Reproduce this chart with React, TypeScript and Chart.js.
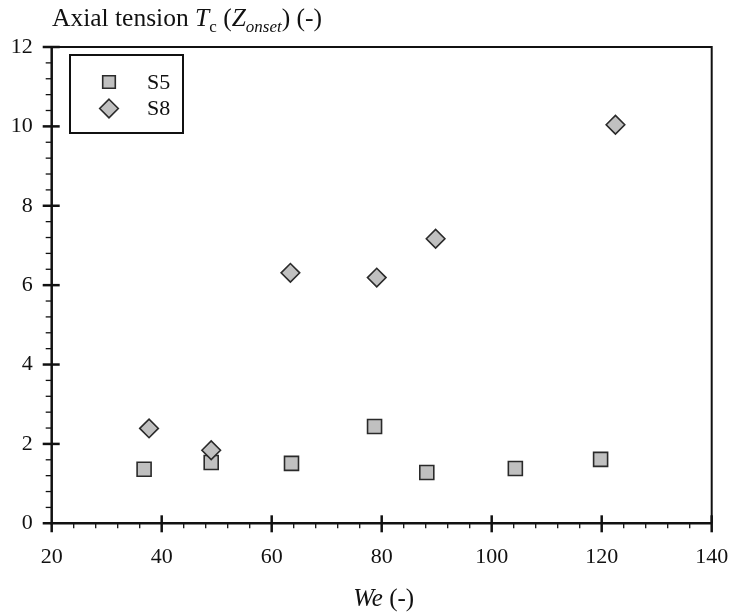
import React, { useEffect, useRef } from 'react';
import { Chart, registerables } from 'chart.js';
Chart.register(...registerables);

const seriesNames = ['S5', 'S8'];
const s5We = [36.8, 49.0, 63.6, 78.7, 88.2, 104.3, 119.8];
const s5Tc = [1.36, 1.53, 1.51, 2.44, 1.28, 1.38, 1.61];
const s8We = [37.7, 49.0, 63.4, 79.1, 89.8, 122.5];
const s8Tc = [2.39, 1.84, 6.31, 6.19, 7.17, 10.04];

const xMin = 20, xMax = 140, xStep = 20, xMinor = 4;
const yMin = 0, yMax = 12, yStep = 2, yMinor = 0.4;

const FONT = '"Liberation Serif", "Times New Roman", serif';
const INK = '#111';

type Seg = { t: string; italic?: boolean; small?: boolean };
const titleSegs: Seg[] = [
  { t: 'Axial tension ' },
  { t: 'T', italic: true },
  { t: 'c', small: true },
  { t: ' (' },
  { t: 'Z', italic: true },
  { t: 'onset', italic: true, small: true },
  { t: ') (-)' },
];
const xTitleSegs: Seg[] = [{ t: 'We', italic: true }, { t: ' (-)' }];

function drawSegs(ctx: CanvasRenderingContext2D, segs: Seg[], x: number, y: number, size: number, center = false) {
  const fontOf = (s: Seg) => `${s.italic ? 'italic ' : ''}${s.small ? Math.round(size * 0.66) : size}px ${FONT}`;
  let total = 0;
  for (const s of segs) { ctx.font = fontOf(s); total += ctx.measureText(s.t).width; }
  let cx = center ? x - total / 2 : x;
  ctx.fillStyle = INK;
  ctx.textAlign = 'left';
  ctx.textBaseline = 'alphabetic';
  for (const s of segs) {
    ctx.font = fontOf(s);
    ctx.fillText(s.t, cx, y + (s.small ? size * 0.25 : 0));
    cx += ctx.measureText(s.t).width;
  }
}

const framePlugin = {
  id: 'frame',
  beforeDatasetsDraw(chart: any) {
    const { ctx, chartArea: a, scales } = chart;
    const xs = scales.x, ys = scales.y;
    ctx.save();
    ctx.strokeStyle = INK;
    ctx.lineCap = 'butt';
    ctx.lineWidth = 2;
    ctx.beginPath();
    ctx.moveTo(a.left, a.top); ctx.lineTo(a.right, a.top); ctx.lineTo(a.right, a.bottom);
    ctx.stroke();
    ctx.lineWidth = 2.5;
    ctx.beginPath();
    ctx.moveTo(a.left, a.top); ctx.lineTo(a.left, a.bottom); ctx.lineTo(a.right, a.bottom);
    ctx.stroke();
    const nx = Math.round((xMax - xMin) / xMinor);
    for (let i = 1; i <= nx; i++) {
      const v = xMin + i * xMinor;
      const px = xs.getPixelForValue(v);
      const major = Math.abs(v / xStep - Math.round(v / xStep)) < 1e-6;
      ctx.lineWidth = major ? 2.5 : 1.3;
      ctx.beginPath();
      if (major) { ctx.moveTo(px, a.bottom - 8); ctx.lineTo(px, a.bottom + 9); }
      else { ctx.moveTo(px, a.bottom); ctx.lineTo(px, a.bottom + 5); }
      ctx.stroke();
    }
    const ny = Math.round((yMax - yMin) / yMinor);
    for (let i = 1; i <= ny; i++) {
      const v = yMin + i * yMinor;
      const py = ys.getPixelForValue(v);
      const major = Math.abs(v / yStep - Math.round(v / yStep)) < 1e-6;
      ctx.lineWidth = major ? 2.5 : 1.3;
      ctx.beginPath();
      if (major) { ctx.moveTo(a.left - 9, py); ctx.lineTo(a.left + 8, py); }
      else { ctx.moveTo(a.left - 6, py); ctx.lineTo(a.left, py); }
      ctx.stroke();
    }
    ctx.lineWidth = 2.5;
    ctx.beginPath();
    ctx.moveTo(a.left - 9, a.bottom); ctx.lineTo(a.left, a.bottom);
    ctx.moveTo(a.left, a.bottom); ctx.lineTo(a.left, a.bottom + 9);
    ctx.stroke();
    ctx.restore();
  },
  afterDraw(chart: any) {
    const { ctx, chartArea: a } = chart;
    ctx.save();
    drawSegs(ctx, titleSegs, 52, 26, 25.5);
    drawSegs(ctx, xTitleSegs, (a.left + a.right) / 2 + 2, 606, 25, true);
    const bx = 70, by = 55, bw = 113, bh = 78;
    ctx.strokeStyle = INK;
    ctx.lineWidth = 2;
    ctx.strokeRect(bx, by, bw, bh);
    const styles = chart.data.datasets;
    const rows = [82, 108.5];
    seriesNames.forEach((name, i) => {
      const ds = styles[i];
      ctx.fillStyle = ds.backgroundColor;
      ctx.strokeStyle = ds.borderColor;
      ctx.lineWidth = ds.borderWidth;
      const cy = rows[i];
      const cx = 109;
      ctx.beginPath();
      if (ds.pointStyle === 'rect') {
        const h = 6.3;
        ctx.rect(cx - h, cy - h, 2 * h, 2 * h);
      } else {
        const r = ds.pointRadius;
        ctx.moveTo(cx, cy - r); ctx.lineTo(cx + r, cy); ctx.lineTo(cx, cy + r); ctx.lineTo(cx - r, cy); ctx.closePath();
      }
      ctx.fill();
      ctx.stroke();
      ctx.fillStyle = INK;
      ctx.font = `22px ${FONT}`;
      ctx.textAlign = 'left';
      ctx.textBaseline = 'middle';
      ctx.fillText(name, 147, cy + 1);
    });
    ctx.restore();
  },
};

export default function App() {
  const ref = useRef<HTMLCanvasElement>(null);
  useEffect(() => {
    document.body.style.margin = '0';
    const chart = new Chart(ref.current!, {
      type: 'scatter',
      data: {
        datasets: [
          {
            label: seriesNames[0],
            data: s5We.map((x, i) => ({ x, y: s5Tc[i] })),
            pointStyle: 'rect',
            pointRadius: 9.9,
            backgroundColor: '#c0c0c0',
            borderColor: '#2a2a2a',
            borderWidth: 1.6,
            order: 2,
          } as any,
          {
            label: seriesNames[1],
            data: s8We.map((x, i) => ({ x, y: s8Tc[i] })),
            pointStyle: 'rectRot',
            pointRadius: 9.3,
            backgroundColor: '#c0c0c0',
            borderColor: '#2a2a2a',
            borderWidth: 1.6,
            order: 1,
          } as any,
        ],
      },
      options: {
        responsive: false,
        animation: false,
        layout: { padding: { left: 0, top: 47, right: 18.3, bottom: 0 } },
        plugins: { legend: { display: false }, tooltip: { enabled: false } },
        scales: {
          x: {
            type: 'linear',
            min: xMin,
            max: xMax,
            grid: { display: false, drawTicks: false },
            border: { display: false },
            ticks: { stepSize: xStep, color: INK, font: { family: FONT, size: 22 }, padding: 21, maxRotation: 0 },
            afterFit: (s: any) => { s.height = 92.7; s.paddingLeft = 0; s.paddingRight = 0; },
          },
          y: {
            type: 'linear',
            min: yMin,
            max: yMax,
            grid: { display: false, drawTicks: false },
            border: { display: false },
            ticks: { stepSize: yStep, color: INK, font: { family: FONT, size: 22 }, padding: 19 },
            afterFit: (s: any) => { s.width = 51.7; s.paddingTop = 0; s.paddingBottom = 0; },
          },
        },
      },
      plugins: [framePlugin],
    });
    return () => chart.destroy();
  }, []);
  return (
    <div style={{ width: 730, height: 616, background: '#fff' }}>
      <canvas ref={ref} width={730} height={616} />
    </div>
  );
}
